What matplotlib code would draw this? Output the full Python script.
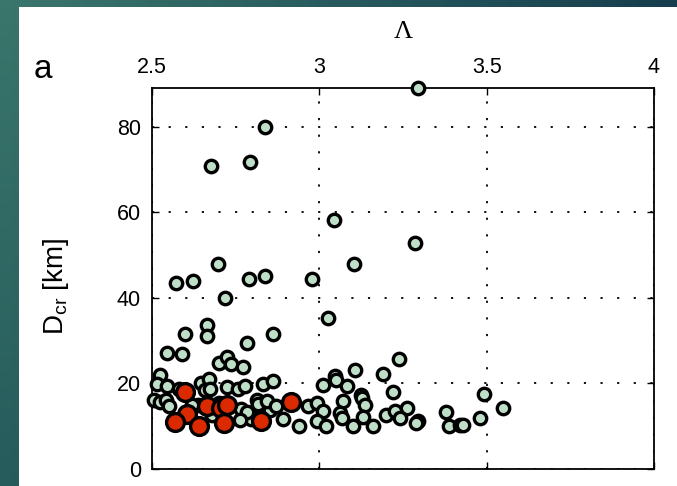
import numpy as np
import matplotlib
matplotlib.use("Agg")
import matplotlib.pyplot as plt
from matplotlib.patches import Rectangle

# ---- data ----
green_x = [3.295, 2.838, 2.793, 2.676, 3.044, 3.286, 3.104, 2.697, 2.838, 2.978,
           2.790, 2.622, 2.572, 2.718, 3.026, 2.663, 2.599, 2.665, 2.783, 2.861,
           2.546, 2.591, 2.701, 2.725, 2.735, 2.773, 3.237, 3.107, 3.189, 3.047,
           3.050, 3.012, 3.084, 3.221, 3.124, 3.126, 3.072, 3.136, 3.261, 2.967,
           2.992, 3.010, 3.199, 3.226, 3.240, 3.062, 3.067, 2.994, 3.019, 3.101,
           3.161, 3.131, 2.890, 2.940, 2.852, 3.492, 3.548, 3.378, 3.296, 3.290,
           3.388, 3.420, 3.428, 3.480,
           2.524, 2.514, 2.544, 2.582, 2.646, 2.671, 2.658, 2.673, 2.725, 2.758,
           2.778, 2.831, 2.861, 2.506, 2.524, 2.542, 2.552, 2.638, 2.701, 2.765,
           2.793, 2.795, 2.813, 2.818, 2.845, 2.872, 2.783, 2.763, 2.680, 2.620]
green_y = [88.9, 80.0, 71.8, 70.7, 58.1, 52.7, 47.8, 47.8, 45.2, 44.5,
           44.3, 43.8, 43.4, 39.9, 35.3, 33.6, 31.5, 31.0, 29.4, 31.5,
           27.0, 26.8, 24.8, 26.2, 24.5, 23.9, 25.6, 23.2, 22.3, 21.7,
           20.8, 19.6, 19.4, 18.0, 17.4, 16.5, 15.9, 15.0, 14.2, 14.7,
           15.4, 13.6, 12.7, 13.6, 12.0, 13.1, 11.8, 11.2, 10.0, 10.0,
           10.0, 12.2, 11.6, 10.0, 13.8, 17.5, 14.3, 13.4, 11.3, 10.7,
           10.0, 10.3, 10.3, 12.0,
           21.9, 19.8, 19.4, 18.8, 20.0, 21.1, 18.4, 18.8, 19.2, 18.6,
           19.4, 19.8, 20.6, 16.1, 15.7, 16.1, 14.7, 14.9, 15.5, 13.9,
           13.1, 11.6, 16.1, 15.3, 15.9, 14.7, 13.4, 11.4, 12.5, 15.0]

red_x = [2.599, 2.605, 2.569, 2.641, 2.665, 2.705, 2.725, 2.715, 2.825, 2.914]
red_y = [18.0, 12.8, 11.0, 10.0, 14.7, 14.2, 14.9, 10.8, 11.3, 15.7]

x_ticks = [2.5, 3, 3.5, 4]
x_tick_labels = ["2.5", "3", "3.5", "4"]
y_ticks = [0, 20, 40, 60, 80]

W, H = 677, 486
fig = plt.figure(figsize=(W / 100, H / 100), dpi=100)

# slide-like background gradient
bg = fig.add_axes([0, 0, 1, 1], zorder=-10)
bg.set_axis_off()
tl = np.array([58, 118, 108]) / 255
tr = np.array([22, 62, 78]) / 255
bl = np.array([38, 92, 92]) / 255
br = np.array([20, 50, 65]) / 255
u = np.linspace(0, 1, 64)[None, :, None]
v = np.linspace(0, 1, 64)[:, None, None]
img = (1 - v) * ((1 - u) * tl + u * tr) + v * ((1 - u) * bl + u * br)
bg.imshow(img, extent=[0, 1, 0, 1], aspect='auto', origin='upper')
bg.set_xlim(0, 1)
bg.set_ylim(0, 1)
bg.add_patch(Rectangle((19 / W, 0), 1, 1 - 7 / H, facecolor='white', edgecolor='none'))

plt.rcParams['mathtext.default'] = 'regular'
sans = 'Liberation Sans'

ax = fig.add_axes([152 / W, 1 - 469 / H, (654 - 152) / W, (469 - 88) / H])
ax.set_xlim(2.5, 4)
ax.set_ylim(0, 89)

ax.scatter(green_x, green_y, s=80, c='#bfdec7', edgecolors='black',
           linewidths=2.4, zorder=3, clip_on=False)
ax.scatter(red_x, red_y, s=165, c='#dc2a00', edgecolors='black',
           linewidths=2.4, zorder=4, clip_on=False)

ax.xaxis.tick_top()
ax.xaxis.set_label_position('top')
ax.set_xticks(x_ticks)
ax.set_xticklabels(x_tick_labels, fontsize=15.5, family=sans)
ax.set_yticks(y_ticks)
ax.set_yticklabels([str(t) for t in y_ticks], fontsize=15.5, family=sans)
ax.tick_params(axis='both', direction='in', length=5, width=1.0,
               top=True, bottom=True, left=True, right=True)
ax.tick_params(axis='x', pad=7)
ax.tick_params(axis='y', pad=8)

ax.grid(True, color='black', linestyle=(0, (1.2, 8)), linewidth=1.3)
ax.set_axisbelow(True)
for sp in ax.spines.values():
    sp.set_linewidth(1.3)

ax.set_xlabel('Λ', fontsize=19, family='Liberation Serif', labelpad=14)
ax.set_ylabel('D$_{cr}$ [km]', fontsize=20, family=sans)
ax.yaxis.set_label_coords(-0.162, 0.48)

fig.text(43 / W, 1 - 70 / H, 'a', fontsize=24, family=sans, ha='center', va='center')

fig.savefig('out.png', dpi=100)
